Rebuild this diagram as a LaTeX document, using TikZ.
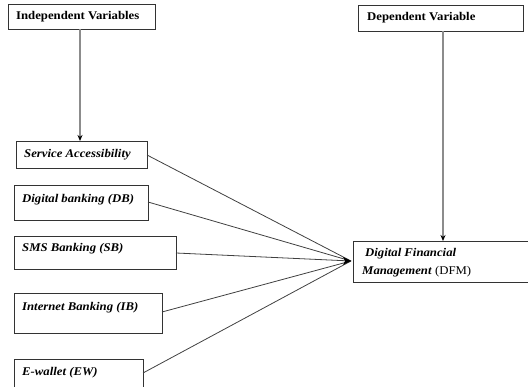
\documentclass[tikz,border=0pt]{standalone}
\usepackage{fontspec}
\setmainfont{Liberation Serif}[FakeStretch=1.08]
\usetikzlibrary{arrows.meta,calc}
\tikzset{
  box/.style={draw=black!80, line width=0.8pt, rectangle, anchor=north west, inner sep=0pt},
  txt/.style={anchor=west, inner sep=0pt, font=\fontsize{11.8}{13}\selectfont\bfseries},
  itxt/.style={anchor=west, inner sep=0pt, font=\fontsize{11.8}{13}\selectfont\bfseries\itshape},
  vline/.style={draw=black!45, line width=1.2pt, -{Stealth[black,length=6pt,width=5pt]}},
  dline/.style={draw=black!75, line width=0.8pt},
}
\begin{document}
\begin{tikzpicture}[x=1pt,y=-1pt]
\useasboundingbox (0,0) rectangle (528,387);
\clip (0,0) rectangle (528,387);
% header boxes
\node[box, minimum width=147pt, minimum height=25pt] (iv) at (8,4) {};
\node[txt] (ivt) at (16,16.5) {Independent Variables};
\node[box, minimum width=165pt, minimum height=26pt] (dv) at (358,5) {};
\node[txt] (dvt) at (367,18) {Dependent Variable};
% independent variable boxes
\node[box, minimum width=131pt, minimum height=27pt] (sa) at (16,141) {};
\node[itxt] (sat) at (24,155) {Service Accessibility};
\node[box, minimum width=134pt, minimum height=35pt] (db) at (14,185) {};
\node[itxt] (dbt) at (22,200) {Digital banking (DB)};
\node[box, minimum width=162pt, minimum height=33pt] (sb) at (14,236) {};
\node[itxt] (sbt) at (22,248.5) {SMS Banking (SB)};
\node[box, minimum width=148pt, minimum height=40pt] (ib) at (14,293) {};
\node[itxt] (ibt) at (22,307.5) {Internet Banking (IB)};
\node[box, minimum width=129pt, minimum height=40pt] (ew) at (14,359) {};
\node[itxt] (ewt) at (22,373) {E-wallet (EW)};
% dependent box
\node[box, minimum width=190pt, minimum height=41pt] (dfm) at (353,241) {};
\node[itxt] (dfm1) at (365,254) {Digital Financial};
\node[anchor=west, inner sep=0pt, font=\fontsize{11.8}{13}\selectfont] (dfm2) at (362,271.5) {\textbf{\textit{Management}} (DFM)};
% convergence point
\coordinate (cp) at (351,261);
% vertical arrows
\draw[vline] (80,29) -- (80,141);
\draw[vline] (443,31) -- (443,241);
% lines to DFM
\draw[dline] (147,155) -- (cp);
\draw[dline] (148,202) -- (cp);
\draw[dline] (176,253) -- (cp);
\draw[dline] (162,312) -- (cp);
\draw[dline] (143,373) -- (cp);
\fill[black] (cp) -- ++(-8,-4) -- ++(2,4) -- ++(-2,4) -- cycle;
\end{tikzpicture}
\end{document}
